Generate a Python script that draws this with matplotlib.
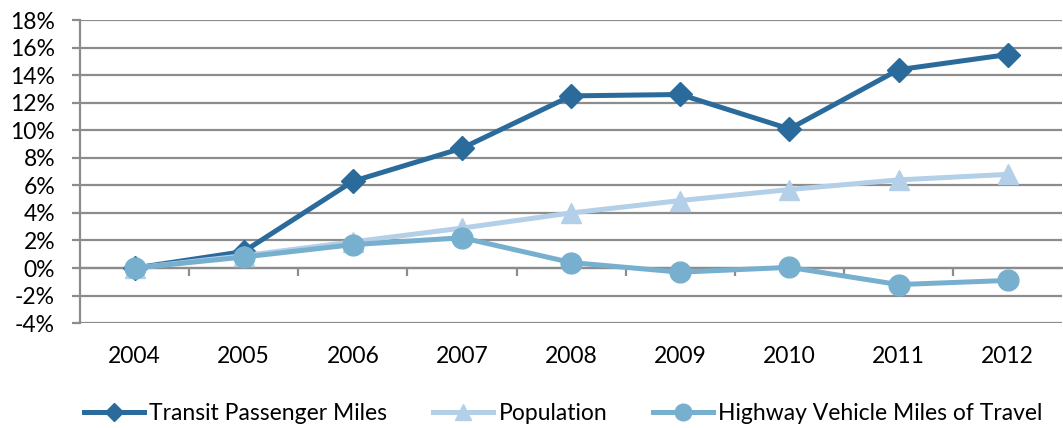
import numpy as np
import matplotlib
matplotlib.use("Agg")
import matplotlib.pyplot as plt
from matplotlib.ticker import FixedLocator, FuncFormatter

years = ["2004", "2005", "2006", "2007", "2008", "2009", "2010", "2011", "2012"]
transit = [0.0, 1.2, 6.3, 8.7, 12.5, 12.6, 10.1, 14.4, 15.5]
population = [0.0, 0.9, 1.9, 2.9, 4.0, 4.9, 5.7, 6.4, 6.8]
highway = [0.0, 0.8, 1.7, 2.2, 0.4, -0.3, 0.05, -1.2, -0.9]

C_TRANSIT = "#2a6b9c"
C_POP = "#b4cfe8"
C_HWY = "#77b0cf"
GRID = "#8c8c8c"

plt.rcParams["font.family"] = ["Lato", "DejaVu Sans"]

fig = plt.figure(figsize=(10.63, 4.28), dpi=100)
ax = fig.add_axes([0.0753, 0.245, 0.924, 0.708])

x = np.arange(len(years))
ax.plot(x, transit, color=C_TRANSIT, lw=3.6, marker="D", ms=12,
        label="Transit Passenger Miles", zorder=3)
ax.plot(x, population, color=C_POP, lw=3.6, marker="^", ms=15,
        label="Population", zorder=4)
ax.plot(x, highway, color=C_HWY, lw=3.6, marker="o", ms=15,
        label="Highway Vehicle Miles of Travel", zorder=5)

ax.set_xlim(-0.5, len(years) - 0.5)
ax.set_ylim(-4, 18)
ax.set_yticks(np.arange(-4, 19, 2))
ax.yaxis.set_major_formatter(FuncFormatter(lambda v, p: f"{v:.0f}%"))
ax.grid(axis="y", color=GRID, lw=1.6)
ax.set_axisbelow(True)

for s in ["top", "right"]:
    ax.spines[s].set_visible(False)
ax.spines["left"].set_color(GRID)
ax.spines["left"].set_linewidth(1.6)
ax.spines["bottom"].set_position(("data", 0))
ax.spines["bottom"].set_color(GRID)
ax.spines["bottom"].set_linewidth(1.6)

ax.tick_params(axis="y", length=6, width=1.6, color=GRID, labelsize=16.5, pad=12)
ax.set_xticks(x)
ax.set_xticklabels(years)
ax.tick_params(axis="x", which="major", length=0, labelsize=16.5, pad=56)
ax.xaxis.set_minor_locator(FixedLocator(np.arange(0.5, len(years) - 1, 1)))
ax.tick_params(axis="x", which="minor", length=6, width=1.6, color=GRID, direction="out")

fig.legend(loc="lower center", bbox_to_anchor=(0.53, -0.04), ncol=3, frameon=False,
           fontsize=16.5, handlelength=2.6, columnspacing=2.0, handletextpad=0.25,
           markerscale=0.8)

fig.savefig("out.png", dpi=100)
